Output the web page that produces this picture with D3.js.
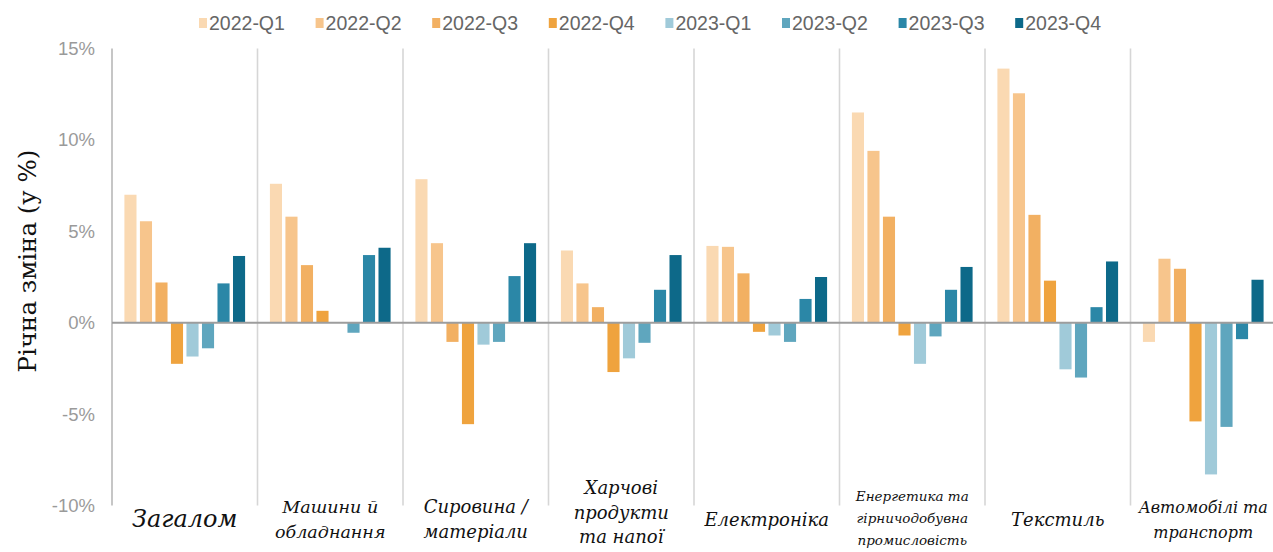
<!DOCTYPE html>
<html><head><meta charset="utf-8">
<script src="https://cdn.jsdelivr.net/npm/d3@7/dist/d3.min.js"></script>
<style>body{margin:0;background:#fff}svg{display:block}</style>
</head><body><svg id="c" width="1273" height="552"></svg>
<script>
const categories = ["Загалом","Машини й обладнання","Сировина / матеріали","Харчові продукти та напої","Електроніка","Енергетика та гірничодобувна промисловість","Текстиль","Автомобілі та транспорт"];
const categoryLines = [["Загалом"],["Машини й","обладнання"],["Сировина /","матеріали"],["Харчові","продукти","та напої"],["Електроніка"],["Енергетика та","гірничодобувна","промисловість"],["Текстиль"],["Автомобілі та","транспорт"]];
const series = ["2022-Q1","2022-Q2","2022-Q3","2022-Q4","2023-Q1","2023-Q2","2023-Q3","2023-Q4"];
const colors = ["#fad9b2","#f7c58c","#f2b062","#efa33e","#a0cad9","#5fa6be","#2b87a7","#0d6989"];
// values per category, in series order (percent)
const vZagalom   = [7.0, 5.55, 2.2, -2.25, -1.85, -1.4, 2.15, 3.65];
const vMashyny   = [7.6, 5.8, 3.15, 0.65, 0, -0.55, 3.7, 4.1];
const vSyrovyna  = [7.85, 4.35, -1.05, -5.55, -1.2, -1.05, 2.55, 4.35];
const vKharchovi = [3.95, 2.15, 0.85, -2.7, -1.95, -1.1, 1.8, 3.7];
const vElektron  = [4.2, 4.15, 2.7, -0.5, -0.7, -1.05, 1.3, 2.5];
const vEnerg     = [11.5, 9.4, 5.8, -0.7, -2.25, -0.75, 1.8, 3.05];
const vTekstyl   = [13.9, 12.55, 5.9, 2.3, -2.55, -3.0, 0.85, 3.35];
const vAvto      = [-1.05, 3.5, 2.95, -5.4, -8.3, -5.7, -0.9, 2.35];
const values = [vZagalom, vMashyny, vSyrovyna, vKharchovi, vElektron, vEnerg, vTekstyl, vAvto];
const yTicks = [15, 10, 5, 0, -5, -10];
const labelSizes = [24, 17.5, 18, 18, 18, 13.5, 18, 16];

const svg = d3.select("#c");
const pLeft = 112, pRight = 1276, pTop = 48.5, pBottom = 505.5;
const y = d3.scaleLinear().domain([-10, 15]).range([pBottom, pTop]);
const x0 = d3.scaleBand().domain(categories).range([pLeft, pRight]).padding(0);
const x1 = d3.scaleBand().domain(series).range([0, x0.bandwidth()]).paddingInner(0.22).paddingOuter(0.8);
const color = d3.scaleOrdinal().domain(series).range(colors);

// separators
svg.append("g").selectAll("line").data(categories).join("line")
  .attr("x1", d => x0(d)).attr("x2", d => x0(d))
  .attr("y1", pTop).attr("y2", pBottom)
  .attr("stroke", (d,i) => i === 0 ? "#b8b8b8" : "#d6d6d6").attr("stroke-width", 1.6);

// y axis labels
const yAxis = d3.axisLeft(y).tickValues(yTicks).tickFormat(d => d + "%").tickSize(0).tickPadding(17);
const ya = svg.append("g").attr("transform", `translate(${pLeft},0)`).call(yAxis);
ya.select(".domain").remove();
ya.selectAll("text").attr("font-family", "Liberation Sans, Arial, sans-serif").attr("font-size", 18.5).attr("fill", "#9a9a9a");

// bars
const g = svg.append("g").selectAll("g").data(categories).join("g")
  .attr("transform", d => `translate(${x0(d)},0)`);
g.selectAll("rect").data((d, i) => values[i].map((v, j) => ({s: series[j], v})))
  .join("rect")
  .attr("x", d => x1(d.s)).attr("width", x1.bandwidth())
  .attr("y", d => y(Math.max(0, d.v))).attr("height", d => Math.abs(y(d.v) - y(0)))
  .attr("fill", d => color(d.s));

// zero line
svg.append("line").attr("x1", pLeft).attr("x2", 1273).attr("y1", y(0)).attr("y2", y(0))
  .attr("stroke", "#9d9d9d").attr("stroke-width", 2);

// y title
svg.append("text").attr("transform", "translate(36,261) rotate(-90)")
  .attr("text-anchor", "middle").attr("font-family", "'DejaVu Serif', serif")
  .attr("font-size", 24.5).attr("fill", "#111").text("Річна зміна (у %)");

// category labels
const lab = svg.append("g").selectAll("text").data(categories).join("text")
  .attr("text-anchor", "middle")
  .attr("font-family", "'DejaVu Serif', serif").attr("font-style", "italic")
  .attr("font-size", (d, i) => labelSizes[i]).attr("fill", "#111");
lab.each(function(d, i) {
  const lines = categoryLines[i];
  const fs = labelSizes[i];
  const lh = lines.length === 3 ? (fs < 15 ? 22 : 24.5) : 25;
  const cx = x0(d) + x0.bandwidth() / 2;
  const startY = lines.length === 1 ? (i === 0 ? 527 : 526) : (lines.length === 2 ? 513 : (fs < 15 ? 501 : 494));
  d3.select(this).selectAll("tspan").data(lines).join("tspan")
    .attr("x", cx).attr("y", (l, k) => startY + k * lh).text(l => l);
});

// legend
const leg = svg.append("g").selectAll("g").data(series).join("g")
  .attr("transform", (d, i) => `translate(${199 + i * 116.6},23)`);
leg.append("rect").attr("x", 0).attr("y", -5).attr("width", 8).attr("height", 10).attr("fill", d => color(d));
leg.append("text").attr("x", 10).attr("y", 7).attr("font-family", "Liberation Sans, Arial, sans-serif")
  .attr("font-size", 19.5).attr("fill", "#666").text(d => d);
</script></body></html>
